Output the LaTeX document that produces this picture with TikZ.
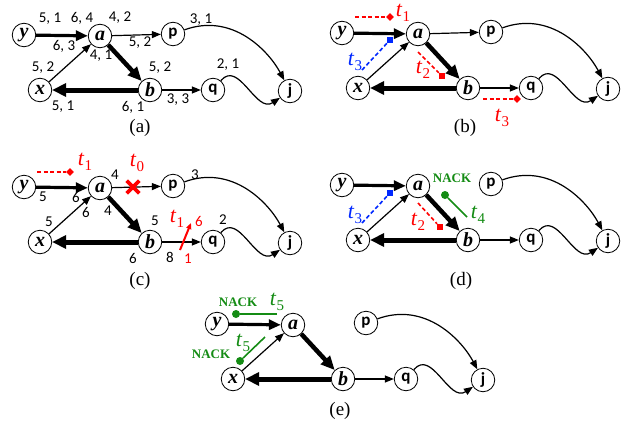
\documentclass[tikz,border=0pt]{standalone}
\usepackage{fontspec}
\setmainfont{Liberation Serif}
\newfontfamily\lblfont{Carlito}
\usetikzlibrary{arrows.meta,shapes.misc,shapes.geometric}

\definecolor{rr}{RGB}{255,0,0}
\definecolor{bb}{RGB}{0,40,255}
\definecolor{gg}{RGB}{20,140,20}

\newcommand\tsub[2]{\textit{#1}\raisebox{-0.45ex}{\fontsize{15}{15}\selectfont #2}}

\tikzset{
  vtx/.style={circle,draw,line width=0.8pt,minimum size=23.5pt,inner sep=0pt,fill=white},
  iv/.style={vtx,font=\fontsize{20}{20}\selectfont\bfseries\itshape},
  sv/.style={vtx,font=\fontsize{17}{17}\selectfont\lblfont\bfseries},
  ethin/.style={line width=1.2pt,-{Triangle[length=9pt,width=7pt]}},
  eya/.style={line width=3.2pt,-{Triangle[length=12pt,width=10pt]}},
  eab/.style={line width=4.5pt,-{Triangle[length=14pt,width=12pt]}},
  ebx/.style={line width=5pt,-{Triangle[length=14pt,width=13pt]}},
  ecurve/.style={line width=1.2pt,-{Triangle[length=9pt,width=7pt]}},
  wl/.style={font=\fontsize{15}{15}\selectfont\lblfont,inner sep=0pt},
  captn/.style={font=\fontsize{19}{19}\selectfont,inner sep=0pt},
  tl/.style={font=\fontsize{22}{22}\selectfont,inner sep=0pt},
  nack/.style={font=\fontsize{13}{13}\selectfont\bfseries,text=gg,inner sep=0pt},
  rdash/.style={draw=rr,line width=1.6pt,dash pattern=on 4pt off 2.5pt},
  bdash/.style={draw=bb,line width=1.6pt,dash pattern=on 4pt off 2.5pt},
  gline/.style={draw=gg,line width=1.6pt},
  rdia/.style={diamond,fill=rr,minimum size=8pt,inner sep=0pt},
  rsq/.style={rectangle,fill=rr,minimum size=6pt,inner sep=0pt},
  bsq/.style={rectangle,fill=bb,minimum size=6pt,inner sep=0pt},
  gdot/.style={circle,fill=gg,minimum size=8pt,inner sep=0pt},
}

\newcommand\basegraph[1]{%
  \node[iv] (y) at (24,-35) {y};
  \node[iv] (a) at (100,-36) {a};
  \node[sv] (p) at (173,-34) {p};
  \node[iv] (x) at (40,-90) {x};
  \node[iv] (b) at (150,-90) {b};
  \node[sv] (q) at (213,-90) {q};
  \node[sv] (j) at (290,-91) {j};
  \draw[eya] (y) -- (a);
  \draw[ethin] (x) -- (a);
  \draw[eab] (a) -- (b);
  \draw[ebx] (b) -- (x);
  \draw[ethin] (b) -- (q);
  \ifnum#1=1 \draw[ethin] (a) -- (p);\fi
  \draw[ecurve] (p) to[out=20,in=118,out distance=52pt,in distance=44pt] (j);
  \draw[ecurve] (q) to[out=50,in=214,out distance=28pt,in distance=41pt] (j);
}

\begin{document}
\begin{tikzpicture}[x=1pt,y=1pt]
\useasboundingbox (0,0) rectangle (634,-431);
\fill[white] (0,0) rectangle (634,-431);

% ---------- (a)
\begin{scope}[name prefix=pa-]
  \basegraph{1}
  \node[wl] (l1) at (50,-19) {5, 1};
  \node[wl] (l2) at (82,-18) {6, 4};
  \node[wl] (l3) at (120,-18) {4, 2};
  \node[wl] (l4) at (140,-43) {5, 2};
  \node[wl] (l5) at (64,-46) {6, 3};
  \node[wl] (l6) at (101,-56) {4, 1};
  \node[wl] (l7) at (43,-68) {5, 2};
  \node[wl] (l8) at (63,-107) {5, 1};
  \node[wl] (l9) at (133,-107) {6, 1};
  \node[wl] (l10) at (160,-68) {5, 2};
  \node[wl] (l11) at (178,-100) {3, 3};
  \node[wl] (l12) at (201,-20) {3, 1};
  \node[wl] (l13) at (228,-65) {2, 1};
\end{scope}
\node[captn] (capa) at (140,-128) {(a)};

% ---------- (b)
\begin{scope}[shift={(318,2)},name prefix=pb-]
  \basegraph{1}
\end{scope}
\coordinate (b1s) at (355,-17);
\node[rdia] (b1e) at (390,-17) {};
\draw[rdash] (b1s) -- (b1e);
\node[tl,text=rr] (b1t) at (403,-13) {\tsub{t}{1}};
\coordinate (b2s) at (362,-70);
\node[bsq] (b2e) at (390,-40) {};
\draw[bdash] (b2s) -- (b2e);
\node[tl,text=bb] (b2t) at (355,-62) {\tsub{t}{3}};
\coordinate (b3s) at (418,-52);
\node[rsq] (b3e) at (442,-76) {};
\draw[rdash] (b3s) -- (b3e);
\node[tl,text=rr] (b3t) at (423,-70) {\tsub{t}{2}};
\coordinate (b4s) at (483,-99);
\node[rdia] (b4e) at (517,-99) {};
\draw[rdash] (b4s) -- (b4e);
\node[tl,text=rr] (b4t) at (502,-118) {\tsub{t}{3}};
\node[captn] (capb) at (465,-128) {(b)};

% ---------- (c)
\begin{scope}[shift={(0,-152)},name prefix=pc-]
  \basegraph{1}
\end{scope}
\node[wl] (c1) at (43,-197) {5};
\node[wl] (c2) at (76,-197) {6};
\node[wl] (c3) at (115,-175) {4};
\node[wl] (c4) at (86,-212) {6};
\node[wl] (c5) at (108,-211) {4};
\node[wl] (c6) at (49,-222) {5};
\node[wl] (c7) at (133,-258) {6};
\node[wl] (c8) at (155,-221) {5};
\node[wl] (c9) at (170,-257) {8};
\node[wl] (c10) at (195,-175) {3};
\node[wl] (c11) at (223,-220) {2};
\coordinate (c1s) at (37,-172);
\node[rdia] (c1e) at (70,-172) {};
\draw[rdash] (c1s) -- (c1e);
\node[tl,text=rr] (ct1) at (85,-162) {\tsub{t}{1}};
\node[tl,text=rr] (ct0) at (137,-163) {\tsub{t}{0}};
\node[cross out,draw=rr,line width=3.6pt,minimum size=9pt,inner sep=0pt] (cx) at (133,-187) {};
\coordinate (cs1) at (180,-250);
\coordinate (cs2) at (191,-223);
\draw[rr,line width=2pt,-{Triangle[length=6pt,width=5pt]}] (cs1) -- (cs2);
\node[wl,text=rr] (cr6) at (199,-221) {6};
\node[wl,text=rr] (cr1) at (188,-259) {1};
\node[tl,text=rr] (ct1b) at (177,-219) {\tsub{t}{1}};
\node[captn] (capc) at (140,-281) {(c)};

% ---------- (d)
\begin{scope}[shift={(318,-150)},name prefix=pd-]
  \basegraph{0}
\end{scope}
\coordinate (d1s) at (362,-223);
\node[bsq] (d1e) at (390,-193) {};
\draw[bdash] (d1s) -- (d1e);
\node[tl,text=bb] (d1t) at (355,-215) {\tsub{t}{3}};
\coordinate (d2s) at (418,-203);
\node[rsq] (d2e) at (440,-227) {};
\draw[rdash] (d2s) -- (d2e);
\node[tl,text=rr] (d2t) at (418,-222) {\tsub{t}{2}};
\node[gdot] (d3e) at (445,-195) {};
\coordinate (d3s) at (467,-217);
\draw[gline] (d3s) -- (d3e);
\node[tl,text=gg] (d3t) at (478,-215) {\tsub{t}{4}};
\node[nack] (d3n) at (452,-178) {NACK};
\node[captn] (capd) at (461,-281) {(d)};

% ---------- (e)
\begin{scope}[shift={(193,-289)},name prefix=pe-]
  \basegraph{0}
\end{scope}
\node[gdot] (e1e) at (236,-314) {};
\coordinate (e1s) at (277,-314);
\draw[gline] (e1s) -- (e1e);
\node[nack] (e1n) at (238,-302) {NACK};
\node[tl,text=gg] (e1t) at (277,-302) {\tsub{t}{5}};
\node[gdot] (e2e) at (240,-361) {};
\coordinate (e2s) at (265,-337);
\draw[gline] (e2s) -- (e2e);
\node[nack] (e2n) at (211,-354) {NACK};
\node[tl,text=gg] (e2t) at (243,-343) {\tsub{t}{5}};
\node[captn] (cape) at (340,-411) {(e)};
\end{tikzpicture}
\end{document}
